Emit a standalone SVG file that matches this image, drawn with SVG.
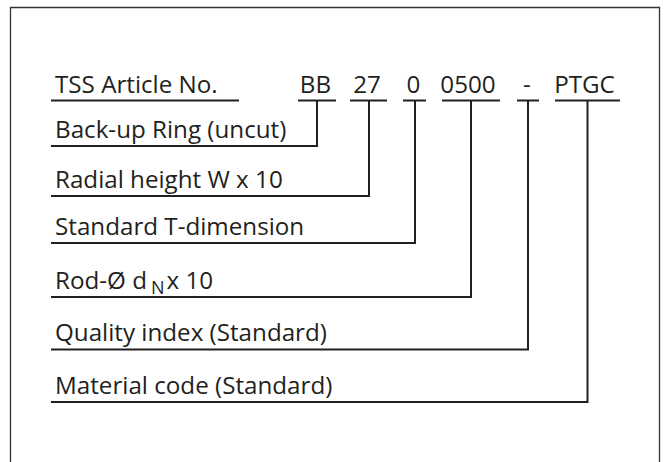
<svg xmlns="http://www.w3.org/2000/svg" width="665" height="462" viewBox="0 0 665 462">
<style>
text{font-family:"Open Sans","Liberation Sans",Arial,sans-serif;font-size:24.2px;fill:#231f20}
.code{text-anchor:middle}
.ul{stroke:#231f20;stroke-width:2;fill:none}
.conn{stroke:#231f20;stroke-width:2;fill:none}
.frame{stroke:#333;stroke-width:1.3;fill:none}
</style>
<rect width="665" height="462" fill="#fff"/>
<path class="frame" d="M10.5 462 V7.5 H659.5 V462"/>
<g id="header">
<text x="55" y="93">TSS Article No.</text>
<path class="ul" d="M51 100.5 H239"/>
</g>
<g id="code-BB"><text class="code" x="315.5" y="93">BB</text><path class="ul" d="M298 100.5 H336"/></g>
<g id="code-27"><text class="code" x="367" y="93">27</text><path class="ul" d="M350 100.5 H387"/></g>
<g id="code-0"><text class="code" x="413.5" y="93">0</text><path class="ul" d="M403 100.5 H426"/></g>
<g id="code-0500"><text class="code" x="468" y="93">0500</text><path class="ul" d="M442 100.5 H500"/></g>
<g id="code-dash"><text class="code" x="527" y="93">-</text><path class="ul" d="M517 100.5 H539"/></g>
<g id="code-PTGC"><text class="code" x="584.5" y="93">PTGC</text><path class="ul" d="M555 100.5 H620"/></g>
<g id="label-backup"><text x="55" y="138">Back-up Ring (uncut)</text></g>
<g id="label-radial"><text x="55" y="188">Radial height W x 10</text></g>
<g id="label-standard"><text x="55" y="235">Standard T-dimension</text></g>
<g id="label-rod"><text x="55" y="289">Rod-Ø d<tspan dx="4" dy="5" font-size="18">N</tspan><tspan dx="2" dy="-5">x 10</tspan></text></g>
<g id="label-quality"><text x="55" y="341">Quality index (Standard)</text></g>
<g id="label-material"><text x="55" y="394">Material code (Standard)</text></g>
<g id="connectors">
<path class="conn" d="M317 100.5 V146 H51"/>
<path class="conn" d="M369 100.5 V196 H51"/>
<path class="conn" d="M415 100.5 V243 H51"/>
<path class="conn" d="M471 100.5 V297 H51"/>
<path class="conn" d="M528 100.5 V349.5 H51"/>
<path class="conn" d="M587.5 100.5 V402 H51"/>
</g>
</svg>
